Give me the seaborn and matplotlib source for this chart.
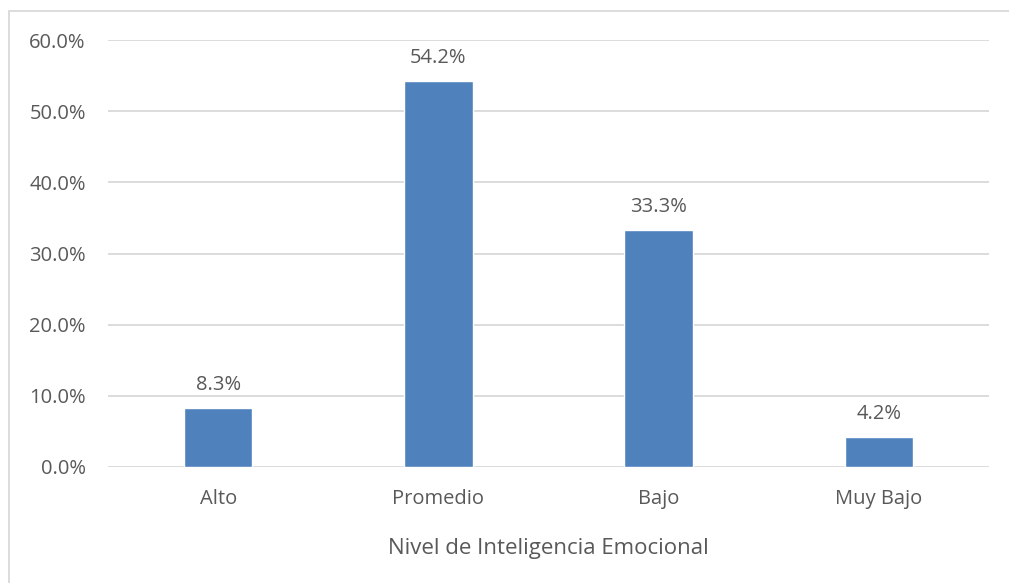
import matplotlib
matplotlib.use("Agg")
import matplotlib.pyplot as plt
import seaborn as sns
import pandas as pd
from matplotlib.lines import Line2D
from matplotlib.ticker import FuncFormatter

categories = ["Alto", "Promedio", "Bajo", "Muy Bajo"]
values = [8.3, 54.2, 33.3, 4.2]
yticks = [0, 10, 20, 30, 40, 50, 60]

df = pd.DataFrame({"cat": categories, "val": values})

sns.set_theme(style="white")
plt.rcParams['font.family'] = ['Open Sans', 'DejaVu Sans']

W, H = 1009, 583
fig = plt.figure(figsize=(W / 100, H / 100), dpi=100)
ax = fig.add_axes([108 / W, 1 - 467 / H, 881 / W, 427 / H])

sns.barplot(data=df, x="cat", y="val", color="#4f81bd", saturation=1, width=0.31, ax=ax)

txt = "#595959"
for i, v in enumerate(values):
    ax.annotate(f"{v:.1f}%", xy=(i, v), xytext=(0, 16.5), textcoords="offset points",
                ha="center", va="center", fontsize=14.5, color=txt)

ax.set_ylim(0, 60)
ax.set_xlim(-0.5, 3.5)
ax.set_yticks(yticks)
ax.yaxis.set_major_formatter(FuncFormatter(lambda y, p: f"{y:.1f}%"))
ax.grid(axis="y", color="#d9d9d9", linewidth=1.3)
ax.set_axisbelow(True)
for s in ax.spines.values():
    s.set_visible(False)
ax.tick_params(axis="both", length=0, labelsize=14.5, labelcolor=txt)
ax.tick_params(axis="y", pad=16)
ax.tick_params(axis="x", pad=16)
ax.set_ylabel("")
ax.set_xlabel("Nivel de Inteligencia Emocional", fontsize=16, color=txt, labelpad=21)

# chart-area frame (top and left edges visible in the reference crop)
fig.add_artist(Line2D([8.5 / W, 1.0], [1 - 10.5 / H, 1 - 10.5 / H], transform=fig.transFigure,
                      color="#d9d9d9", linewidth=1.3))
fig.add_artist(Line2D([8.5 / W, 8.5 / W], [0.0, 1 - 10.5 / H], transform=fig.transFigure,
                      color="#d9d9d9", linewidth=1.3))

fig.savefig("out.png", dpi=100)
